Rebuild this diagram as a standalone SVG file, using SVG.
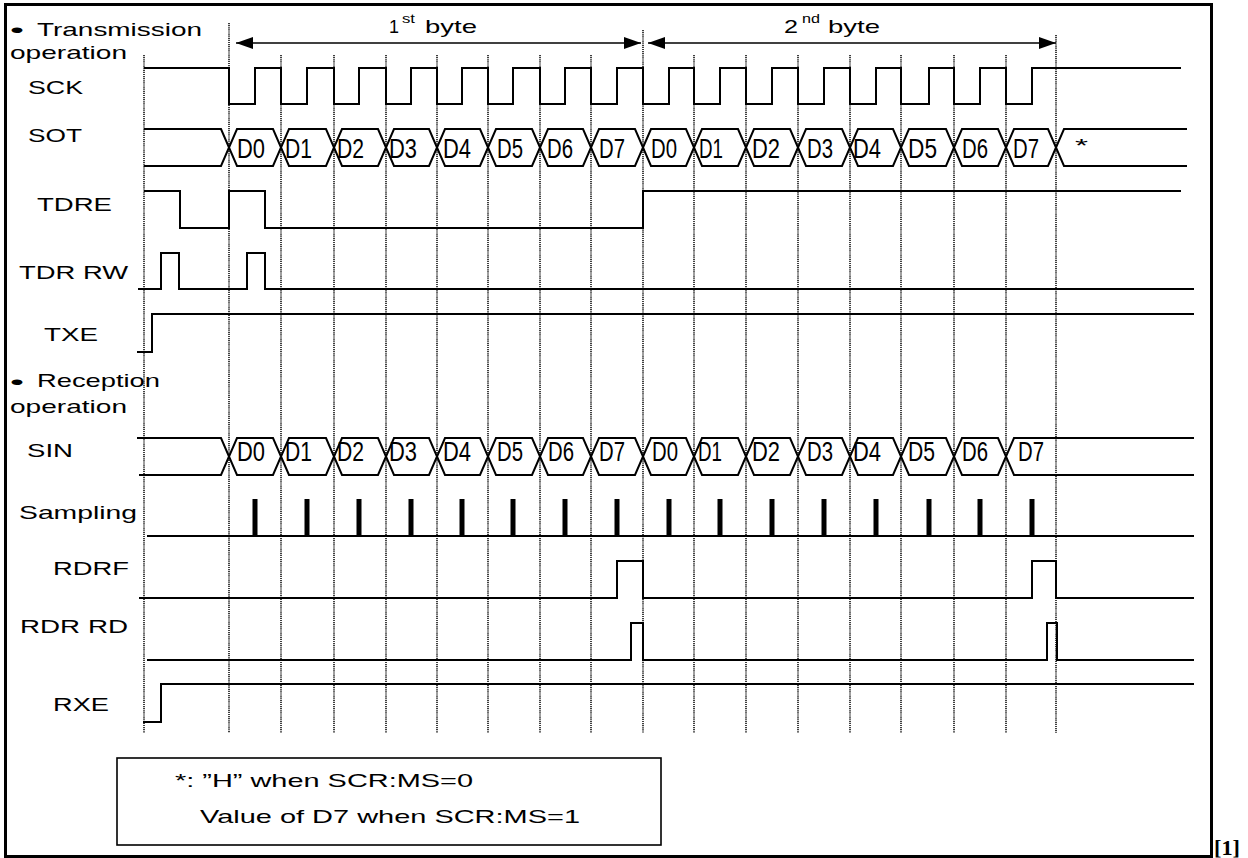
<svg xmlns="http://www.w3.org/2000/svg" width="1248" height="858" viewBox="0 0 1248 858">
<style>
.w{fill:none;stroke:#000;stroke-width:2}
.g{fill:none;stroke:#000;stroke-width:1.5;stroke-dasharray:1.2 0.9}
.t{font-family:"Liberation Sans",Arial,sans-serif;font-size:19px;fill:#000}
.b{font-family:"Liberation Sans",Arial,sans-serif;font-size:21px;fill:#000}
.d{font-family:"Liberation Sans",Arial,sans-serif;font-size:27px;fill:#000}
.s{font-family:"Liberation Sans",Arial,sans-serif;font-size:12px;fill:#000}
.a{fill:none;stroke:#000;stroke-width:1.6}
.p{fill:#000}
</style>
<defs>
<marker id="ah" viewBox="0 0 10 10" refX="10" refY="5" markerUnits="userSpaceOnUse" markerWidth="17" markerHeight="12" orient="auto-start-reverse" preserveAspectRatio="none"><path d="M0,0 L10,5 L0,10 z" fill="#000"/></marker>
</defs>
<rect x="0" y="0" width="1248" height="858" fill="#fff"/>
<rect x="5.5" y="4.5" width="1206" height="852" fill="none" stroke="#000" stroke-width="3"/>

<g id="connectors">
<g id="grid">
<path class="g" d="M144,55V733 M229,23V733 M281,55V733 M334,55V733 M386,55V733 M437,55V733 M488,55V733 M540,55V733 M591,55V733 M643,30V733 M694,55V733 M746,55V733 M798,55V733 M850,55V733 M901,55V733 M954,55V733 M1006,55V733 M1056,35V733"/>
</g>
<path class="a" d="M236,43H641" marker-start="url(#ah)" marker-end="url(#ah)"/>
<path class="a" d="M648,43H1056" marker-start="url(#ah)" marker-end="url(#ah)"/>
</g>

<g id="byte-labels">
<text class="t" x="389" y="33" textLength="10" lengthAdjust="spacingAndGlyphs">1</text>
<text class="s" x="402" y="23" textLength="13" lengthAdjust="spacingAndGlyphs">st</text>
<text class="t" x="425" y="33" textLength="52" lengthAdjust="spacingAndGlyphs">byte</text>
<text class="t" x="784" y="33" textLength="14" lengthAdjust="spacingAndGlyphs">2</text>
<text class="s" x="802" y="23" textLength="18" lengthAdjust="spacingAndGlyphs">nd</text>
<text class="t" x="828" y="33" textLength="52" lengthAdjust="spacingAndGlyphs">byte</text>
</g>

<g id="hdr-tx">
<text class="b" x="10" y="37" textLength="14" lengthAdjust="spacingAndGlyphs">•</text>
<text class="t" x="37" y="36" textLength="165" lengthAdjust="spacingAndGlyphs">Transmission</text>
<text class="t" x="10" y="59" textLength="117" lengthAdjust="spacingAndGlyphs">operation</text>
</g>

<g id="sig-SCK">
<text class="t" x="28" y="94" textLength="55" lengthAdjust="spacingAndGlyphs">SCK</text>
<path class="w" d="M144,68H229V104H255V68H281V104H307V68H334V104H359V68H386V104H411V68H437V104H462V68H488V104H513V68H540V104H565V68H591V104H617V68H643V104H669V68H694V104H720V68H746V104H772V68H798V104H824V68H850V104H876V68H901V104H929V68H954V104H980V68H1006V104H1032V68H1181"/>
</g>

<g id="sig-SOT">
<text class="t" x="28" y="142" textLength="54" lengthAdjust="spacingAndGlyphs">SOT</text>
<polyline class="w" points="144,129 221,129 237,166 273,166 289,129 326,129 342,166 378,166 394,129 429,129 445,166 480,166 496,129 532,129 548,166 583,166 599,129 635,129 651,166 686,166 702,129 738,129 754,166 790,166 806,129 842,129 858,166 893,166 909,129 946,129 962,166 998,166 1014,129 1048,129 1064,166 1187,166"/>
<polyline class="w" points="144,166 221,166 237,129 273,129 289,166 326,166 342,129 378,129 394,166 429,166 445,129 480,129 496,166 532,166 548,129 583,129 599,166 635,166 651,129 686,129 702,166 738,166 754,129 790,129 806,166 842,166 858,129 893,129 909,166 946,166 962,129 998,129 1014,166 1048,166 1064,129 1187,129"/>
<g class="d">
<text x="237" y="158" textLength="28" lengthAdjust="spacingAndGlyphs">D0</text>
<text x="285" y="158" textLength="27" lengthAdjust="spacingAndGlyphs">D1</text>
<text x="337" y="158" textLength="27" lengthAdjust="spacingAndGlyphs">D2</text>
<text x="389" y="158" textLength="28" lengthAdjust="spacingAndGlyphs">D3</text>
<text x="443" y="158" textLength="28" lengthAdjust="spacingAndGlyphs">D4</text>
<text x="497" y="158" textLength="26" lengthAdjust="spacingAndGlyphs">D5</text>
<text x="547" y="158" textLength="26" lengthAdjust="spacingAndGlyphs">D6</text>
<text x="599" y="158" textLength="26" lengthAdjust="spacingAndGlyphs">D7</text>
<text x="651" y="158" textLength="26" lengthAdjust="spacingAndGlyphs">D0</text>
<text x="699" y="158" textLength="24" lengthAdjust="spacingAndGlyphs">D1</text>
<text x="752" y="158" textLength="28" lengthAdjust="spacingAndGlyphs">D2</text>
<text x="807" y="158" textLength="26" lengthAdjust="spacingAndGlyphs">D3</text>
<text x="853" y="158" textLength="28" lengthAdjust="spacingAndGlyphs">D4</text>
<text x="908" y="158" textLength="29" lengthAdjust="spacingAndGlyphs">D5</text>
<text x="962" y="158" textLength="26" lengthAdjust="spacingAndGlyphs">D6</text>
<text x="1013" y="158" textLength="26" lengthAdjust="spacingAndGlyphs">D7</text>
</g>
<text class="t" x="1075" y="152" textLength="13" lengthAdjust="spacingAndGlyphs">*</text>
</g>

<g id="sig-TDRE">
<text class="t" x="37" y="211" textLength="75" lengthAdjust="spacingAndGlyphs">TDRE</text>
<path class="w" d="M144,191H180V228H229V191H265V228H643V191H1181"/>
</g>

<g id="sig-TDRRW">
<text class="t" x="19" y="279" textLength="109" lengthAdjust="spacingAndGlyphs">TDR RW</text>
<path class="w" d="M138,289H161V253H179V289H247V253H265V289H1194"/>
</g>

<g id="sig-TXE">
<text class="t" x="44" y="341" textLength="54" lengthAdjust="spacingAndGlyphs">TXE</text>
<path class="w" d="M137,352H152V314H1194"/>
</g>

<g id="hdr-rx">
<text class="b" x="10" y="389" textLength="14" lengthAdjust="spacingAndGlyphs">•</text>
<text class="t" x="37" y="387" textLength="123" lengthAdjust="spacingAndGlyphs">Reception</text>
<text class="t" x="10" y="413" textLength="117" lengthAdjust="spacingAndGlyphs">operation</text>
</g>

<g id="sig-SIN">
<text class="t" x="27" y="457" textLength="46" lengthAdjust="spacingAndGlyphs">SIN</text>
<polyline class="w" points="137,438 221,438 237,475 273,475 289,438 326,438 342,475 378,475 394,438 429,438 445,475 480,475 496,438 532,438 548,475 583,475 599,438 635,438 651,475 686,475 702,438 738,438 754,475 790,475 806,438 842,438 858,475 893,475 909,438 946,438 962,475 998,475 1014,438 1194,438"/>
<polyline class="w" points="139,475 221,475 237,438 273,438 289,475 326,475 342,438 378,438 394,475 429,475 445,438 480,438 496,475 532,475 548,438 583,438 599,475 635,475 651,438 686,438 702,475 738,475 754,438 790,438 806,475 842,475 858,438 893,438 909,475 946,475 962,438 998,438 1014,475 1194,475"/>
<g class="d">
<text x="237" y="461" textLength="28" lengthAdjust="spacingAndGlyphs">D0</text>
<text x="285" y="461" textLength="27" lengthAdjust="spacingAndGlyphs">D1</text>
<text x="337" y="461" textLength="27" lengthAdjust="spacingAndGlyphs">D2</text>
<text x="389" y="461" textLength="28" lengthAdjust="spacingAndGlyphs">D3</text>
<text x="443" y="461" textLength="28" lengthAdjust="spacingAndGlyphs">D4</text>
<text x="497" y="461" textLength="26" lengthAdjust="spacingAndGlyphs">D5</text>
<text x="548" y="461" textLength="26" lengthAdjust="spacingAndGlyphs">D6</text>
<text x="599" y="461" textLength="26" lengthAdjust="spacingAndGlyphs">D7</text>
<text x="652" y="461" textLength="26" lengthAdjust="spacingAndGlyphs">D0</text>
<text x="698" y="461" textLength="24" lengthAdjust="spacingAndGlyphs">D1</text>
<text x="752" y="461" textLength="28" lengthAdjust="spacingAndGlyphs">D2</text>
<text x="807" y="461" textLength="26" lengthAdjust="spacingAndGlyphs">D3</text>
<text x="853" y="461" textLength="28" lengthAdjust="spacingAndGlyphs">D4</text>
<text x="908" y="461" textLength="27" lengthAdjust="spacingAndGlyphs">D5</text>
<text x="962" y="461" textLength="26" lengthAdjust="spacingAndGlyphs">D6</text>
<text x="1018" y="461" textLength="26" lengthAdjust="spacingAndGlyphs">D7</text>
</g>
</g>

<g id="sig-Sampling">
<text class="t" x="19" y="519" textLength="118" lengthAdjust="spacingAndGlyphs">Sampling</text>
<path class="w" d="M147,536H1194"/>
<g class="p">
<rect x="252.5" y="499" width="5" height="37"/>
<rect x="304.5" y="499" width="5" height="37"/>
<rect x="356.5" y="499" width="5" height="37"/>
<rect x="408.5" y="499" width="5" height="37"/>
<rect x="459.5" y="499" width="5" height="37"/>
<rect x="510.5" y="499" width="5" height="37"/>
<rect x="562.5" y="499" width="5" height="37"/>
<rect x="614.5" y="499" width="5" height="37"/>
<rect x="666.5" y="499" width="5" height="37"/>
<rect x="717.5" y="499" width="5" height="37"/>
<rect x="769.5" y="499" width="5" height="37"/>
<rect x="821.5" y="499" width="5" height="37"/>
<rect x="873.5" y="499" width="5" height="37"/>
<rect x="926.5" y="499" width="5" height="37"/>
<rect x="977.5" y="499" width="5" height="37"/>
<rect x="1029.5" y="499" width="5" height="37"/>
</g>
</g>

<g id="sig-RDRF">
<text class="t" x="53" y="575" textLength="76" lengthAdjust="spacingAndGlyphs">RDRF</text>
<path class="w" d="M139,598H617V561H643V598H1032V561H1056V598H1194"/>
</g>

<g id="sig-RDRRD">
<text class="t" x="20" y="633" textLength="108" lengthAdjust="spacingAndGlyphs">RDR RD</text>
<path class="w" d="M147,660H631V623H643V660H1047V623H1057V660H1194"/>
</g>

<g id="sig-RXE">
<text class="t" x="53" y="711" textLength="56" lengthAdjust="spacingAndGlyphs">RXE</text>
<path class="w" d="M143,722H161V684H1194"/>
</g>

<g id="note">
<rect x="117" y="758" width="544" height="87" fill="none" stroke="#000" stroke-width="1.6"/>
<text class="t" x="175" y="787" textLength="298" lengthAdjust="spacingAndGlyphs">*: ”H” when SCR:MS=0</text>
<text class="t" x="200" y="823" textLength="380" lengthAdjust="spacingAndGlyphs">Value of D7 when SCR:MS=1</text>
</g>

<text x="1214" y="855" font-family="Liberation Serif,serif" font-weight="bold" font-size="22" textLength="26" lengthAdjust="spacingAndGlyphs">[1]</text>
</svg>
